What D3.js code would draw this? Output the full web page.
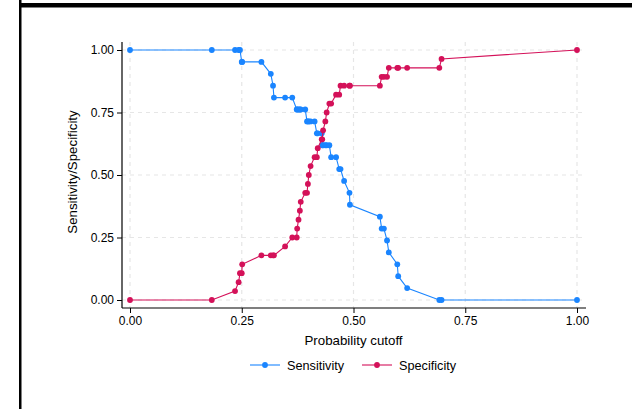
<!DOCTYPE html>
<html><head><meta charset="utf-8">
<script src="https://cdn.jsdelivr.net/npm/d3@7"></script>
<style>
body{margin:0;background:#fff;}
svg{display:block;font-family:"Liberation Sans",Arial,Helvetica,sans-serif;}
</style></head>
<body><svg id="c" width="632" height="409"></svg>
<script>
// Probability cutoffs (shared by both curves)
const cutoffs = [0.000,0.183,0.235,0.243,0.246,0.250,0.251,0.294,0.315,0.320,0.322,0.347,0.363,0.373,0.374,0.377,0.380,0.382,0.392,0.396,0.398,0.400,0.404,0.413,0.418,0.420,0.429,0.430,0.432,0.437,0.440,0.446,0.450,0.461,0.468,0.471,0.479,0.491,0.492,0.559,0.563,0.568,0.575,0.579,0.598,0.600,0.620,0.692,0.697,1.000];
// Sensitivity counts out of 21 positives
const sensitivityCounts = [21,21,21,21,21,20,20,20,19,18,17,17,17,16,16,16,16,16,16,15,15,15,15,15,14,14,14,13,13,13,13,13,12,12,11,11,10,9,8,7,6,6,5,4,3,2,1,0,0,0];
// Specificity counts out of 28 negatives
const specificityCounts = [0,0,1,2,3,3,4,5,5,5,5,6,7,7,8,9,10,11,12,12,13,14,15,16,16,17,18,18,19,20,21,22,22,23,23,24,24,24,24,24,25,25,25,26,26,26,26,26,27,28];
const nPos = 21, nNeg = 28;
const sensitivity = sensitivityCounts.map(c => c / nPos);
const specificity = specificityCounts.map(c => c / nNeg);
const xTicks = [0, 0.25, 0.5, 0.75, 1];
const yTicks = [0, 0.25, 0.5, 0.75, 1];
const seriesNames = ["Sensitivity", "Specificity"];
const colors = ["#1a85ff", "#d41159"];

const svg = d3.select("#c");
// outer frame fragments
svg.append("rect").attr("x",19).attr("y",0).attr("width",2.5).attr("height",409).attr("fill","#000");
svg.append("rect").attr("x",19).attr("y",3).attr("width",613).attr("height",4.5).attr("fill","#000");

const x = d3.scaleLinear().domain([0,1]).range([130,577]);
const y = d3.scaleLinear().domain([0,1]).range([300,50]);
const xL = 122, xR = 586, yT = 42, yB = 308;

// grid
const g = svg.append("g");
g.selectAll("line.hg").data(yTicks).join("line")
  .attr("x1",xL).attr("x2",xR).attr("y1",d=>y(d)).attr("y2",d=>y(d))
  .attr("stroke","#e6e6e6").attr("stroke-width",1.2).attr("stroke-dasharray","4,4");
g.selectAll("line.vg").data(xTicks).join("line")
  .attr("y1",yT).attr("y2",yB).attr("x1",d=>x(d)).attr("x2",d=>x(d))
  .attr("stroke","#e6e6e6").attr("stroke-width",1.2).attr("stroke-dasharray","4,4");

// axes
const fmt = d3.format(".2f");
const yAxis = svg.append("g").attr("transform",`translate(${xL},0)`)
  .call(d3.axisLeft(y).tickValues(yTicks).tickFormat(fmt).tickSize(5).tickPadding(3));
yAxis.select(".domain").attr("d",`M0,${yT}V${yB}`);
const xAxis = svg.append("g").attr("transform",`translate(0,${yB})`)
  .call(d3.axisBottom(x).tickValues(xTicks).tickFormat(fmt).tickSize(5).tickPadding(3));
xAxis.select(".domain").attr("d",`M${xL},0H${xR}`);
svg.selectAll(".tick text").attr("font-size",12).attr("fill","#000").attr("font-family","Liberation Sans, Arial, sans-serif");
svg.selectAll(".domain").attr("stroke","#000").attr("stroke-width",1.2);
svg.selectAll(".tick line").attr("stroke","#000");

// titles
svg.append("text").attr("x",353.5).attr("y",345).attr("text-anchor","middle")
  .attr("font-size",13.3).text("Probability cutoff");
svg.append("text").attr("transform","translate(77,172) rotate(-90)").attr("text-anchor","middle")
  .attr("font-size",13.3).text("Sensitivity/Specificity");

// series
const series = [sensitivity, specificity];
series.forEach((vals,i)=>{
  const pts = cutoffs.map((c,j)=>[c, vals[j]]);
  svg.append("path").datum(pts)
    .attr("d", d3.line().x(d=>x(d[0])).y(d=>y(d[1])))
    .attr("fill","none").attr("stroke",colors[i]).attr("stroke-width",1.1);
  svg.append("g").selectAll("circle").data(pts).join("circle")
    .attr("cx",d=>x(d[0])).attr("cy",d=>y(d[1])).attr("r",2.9).attr("fill",colors[i]);
});

// legend
const legX = [250, 362];
seriesNames.forEach((n,i)=>{
  const lg = svg.append("g");
  lg.append("line").attr("x1",legX[i]).attr("x2",legX[i]+30).attr("y1",365).attr("y2",365)
    .attr("stroke",colors[i]).attr("stroke-width",1.1);
  lg.append("circle").attr("cx",legX[i]+15).attr("cy",365).attr("r",2.9).attr("fill",colors[i]);
  lg.append("text").attr("x",legX[i]+37).attr("y",369.5).attr("font-size",12.7).text(n);
});
</script></body></html>
